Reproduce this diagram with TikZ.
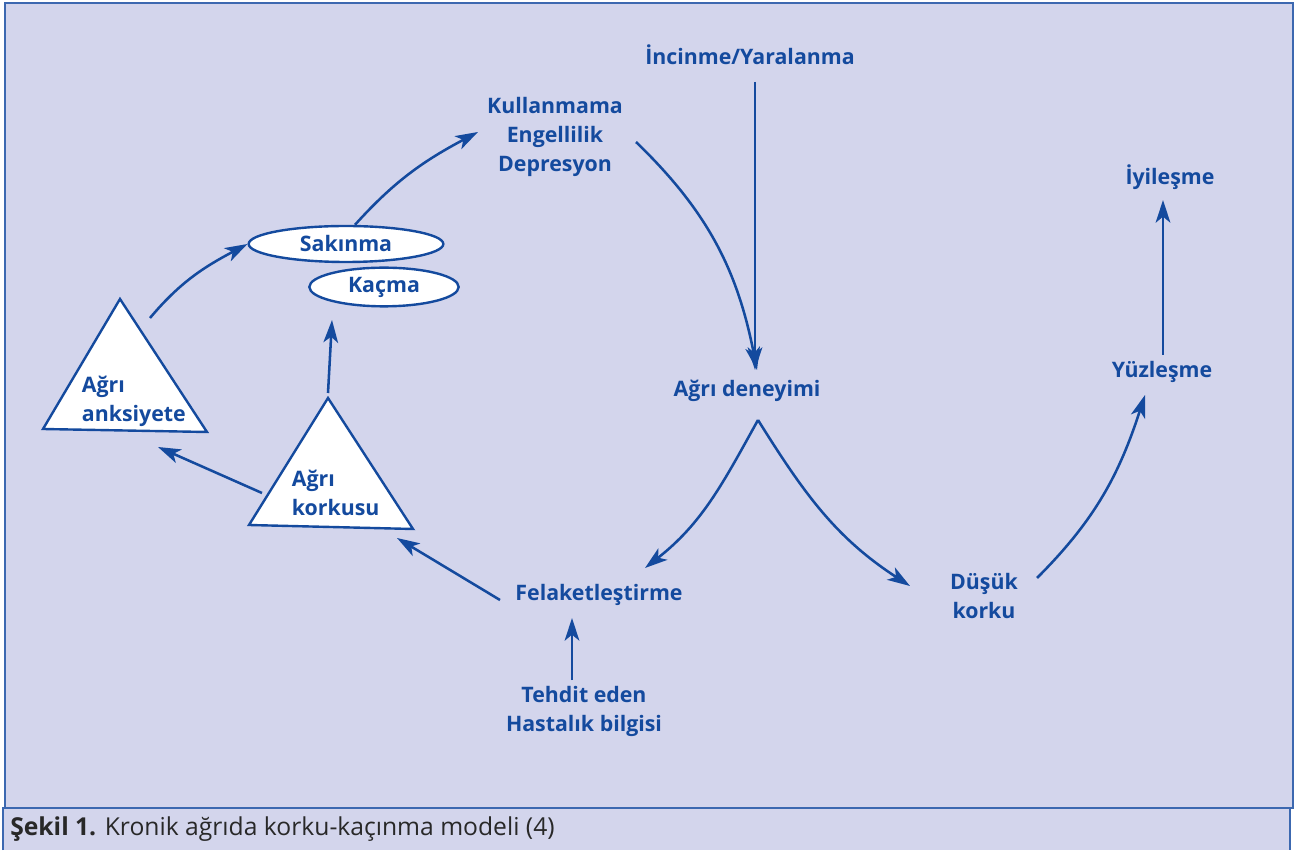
\documentclass[tikz,border=0pt]{standalone}
\usepackage{fontspec}
\setmainfont{Open Sans}
\usepackage{xcolor}
\usetikzlibrary{shapes.geometric, arrows.meta, positioning}

\definecolor{panelbg}{RGB}{211,213,236}
\definecolor{modelblue}{RGB}{20,74,158}
\definecolor{frameblue}{RGB}{60,104,176}
\definecolor{captiongray}{RGB}{40,40,40}

\begin{document}
\begin{tikzpicture}[
    x=0.75pt, y=0.75pt,
    label text/.style = {
        font=\fontsize{16}{21.75}\selectfont\bfseries,
        text=modelblue,
        align=center,
        inner sep=2pt
    },
    state oval/.style = {
        ellipse,
        draw=modelblue,
        line width=1.8pt,
        fill=white,
        inner sep=0pt,
        font=\fontsize{16}{20}\selectfont\bfseries,
        text=modelblue
    },
    tri box/.style = {draw=modelblue, line width=1.8pt, fill=white, line join=miter},
    flow/.style = {-{Stealth[length=17pt, width=11pt, inset=4.5pt]}, draw=modelblue, line width=1.9pt}
]

\useasboundingbox (0,0) rectangle (1299,850);
\fill[white] (0,0) rectangle (1299,850);

% frames
\draw[frameblue, line width=1.4pt, fill=panelbg] (5,42) rectangle (1293,847);
\fill[panelbg] (3,0) rectangle (1290,42);
\draw[frameblue, line width=1.4pt] (3,0) -- (3,42) -- (1290,42) -- (1290,0);

% nodes
\node [label text] (inc) at (750,795) {İncinme/Yaralanma};
\node [label text] (kul) at (555,713) {Kullanmama\\Engellilik\\Depresyon};
\node [label text] (iyi) at (1170,673) {İyileşme};

\node [state oval, minimum width=146pt, minimum height=27pt] (sak) at (346,606) {Sakınma\hspace{14pt}};
\node [state oval, minimum width=112pt, minimum height=29pt] (kac) at (384,563) {Kaçma};

\draw[tri box] (120,551) coordinate (anksTop) -- (43,421) -- (207,418) -- cycle;
\node [label text, align=left, anchor=west] (anks) at (79,449) {Ağrı\\anksiyete};

\draw[tri box] (328,452) coordinate (korkTop) -- (249,325) -- (413,321) -- cycle;
\node [label text, align=left, anchor=west] (kork) at (289,357) {Ağrı\\korkusu};

\node [label text] (den) at (747,459) {Ağrı deneyimi};
\node [label text] (yuz) at (1162,478) {Yüzleşme};
\node [label text] (fel) at (599,255) {Felaketleştirme};
\node [label text] (dus) at (984,254) {Düşük\\korku};
\node [label text] (teh) at (584,139) {Tehdit eden\\Hastalık bilgisi};

% connectors
\draw[flow] ([shift={(30,-19)}]anksTop) to[out=50, in=208] (sak.west);
\draw[flow] ([shift={(9,0)}]sak.north) to[out=48, in=208] ([shift={(-77,5)}]kul.center);
\draw[flow] ([shift={(81,-5)}]kul.center) to[out=-44, in=101] ([shift={(10,21)}]den.center);
\draw[flow] ([shift={(5,-27)}]inc.center) -- ([shift={(8,21)}]den.center);

\draw[flow] ([shift={(11,-29)}]den.center) to[out=-119, in=38] ([shift={(46,27)}]fel.center);
\draw[flow] ([shift={(11,-29)}]den.center) to[out=-58, in=147] ([shift={(-74,10)}]dus.center);
\draw[flow] ([shift={(53,18)}]dus.center) to[out=45, in=-108] ([shift={(-17,-23)}]yuz.center);
\draw[flow] ([shift={(1,17)}]yuz.center) -- ([shift={(-7,-23)}]iyi.center);

\draw[flow] ([shift={(-12,31)}]teh.center) -- ([shift={(-27,-23)}]fel.center);
\draw[flow] ([shift={(-99,-5)}]fel.center) -- ([shift={(69,-140)}]korkTop);
\draw[flow] ([shift={(-66,-95)}]korkTop) -- ([shift={(38,-148)}]anksTop);
\draw[flow] ([shift={(0,5)}]korkTop) -- ([shift={(-52,-33)}]kac.center);

% caption
\node [anchor=west, inner sep=0pt, text=captiongray, font=\fontsize{18.5}{22}\selectfont] (cap) at (10,21)
    {\textbf{Şekil 1.} Kronik ağrıda korku-kaçınma modeli (4)};

\end{tikzpicture}
\end{document}
